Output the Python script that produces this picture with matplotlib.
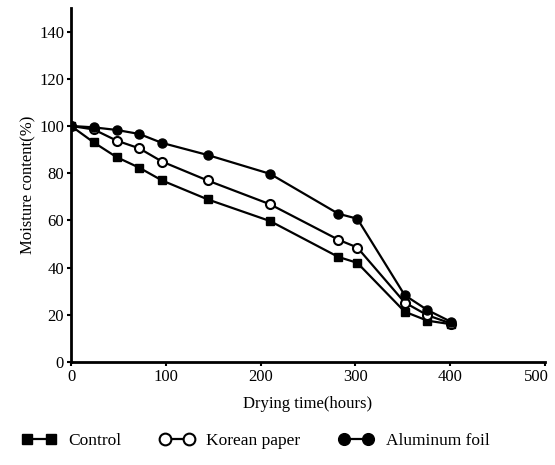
import matplotlib.pyplot as plt
from matplotlib.transforms import ScaledTranslation

plt.rc('font', family='Liberation Serif')
plt.rc('font', size=12)

# drying time (hours)
hours = [0, 24, 48, 72, 96, 144, 210, 282, 302, 352, 376, 401]

# moisture content (%)
control = [100, 93, 86.8, 82.3, 76.9, 68.9, 59.7, 44.5, 42, 21.3, 17.5, 16]
korean_paper = [100, 98.5, 93.8, 90.5, 84.9, 76.9, 66.8, 51.8, 48.5, 25.2, 19.8, 16.3]
aluminum_foil = [100, 99.4, 98.3, 96.6, 92.8, 87.7, 79.7, 62.8, 60.7, 28.3, 22, 17]

fig = plt.figure(figsize=(5.55, 4.65), dpi=100)
ax = fig.add_axes([0.128, 0.2215, 0.854, 0.7615])

ax.plot(hours, control, 'k-s', lw=1.6, ms=6, label='Control')
ax.plot(hours, korean_paper, 'k-o', lw=1.6, ms=6.5, mfc='white', mew=1.5,
        label='Korean paper')
ax.plot(hours, aluminum_foil, 'k-o', lw=1.6, ms=6.5, label='Aluminum foil')

ax.set_xlim(0, 500)
ax.set_ylim(0, 150)
ax.set_xticks([0, 100, 200, 300, 400, 500])
ax.set_yticks(range(0, 141, 20))
for s in ['top', 'right']:
    ax.spines[s].set_visible(False)
for s in ['left', 'bottom']:
    ax.spines[s].set_linewidth(2)
ax.tick_params(direction='out', length=3, width=1.5, pad=2)

# nudge the last x label so it stays inside the figure
last = ax.get_xticklabels()[-1]
last.set_transform(last.get_transform() + ScaledTranslation(-6/72, 0, fig.dpi_scale_trans))

ax.set_xlabel('Drying time(hours)', labelpad=8)
ax.set_ylabel('Moisture content(%)', labelpad=2)

fig.legend(loc='lower center', bbox_to_anchor=(0.46, 0.0), ncol=3, frameon=False,
           numpoints=2, handlelength=2.0, columnspacing=2.2, handletextpad=0.7,
           markerscale=1.3, fontsize=12.5)

fig.savefig('out.png', dpi=100)
